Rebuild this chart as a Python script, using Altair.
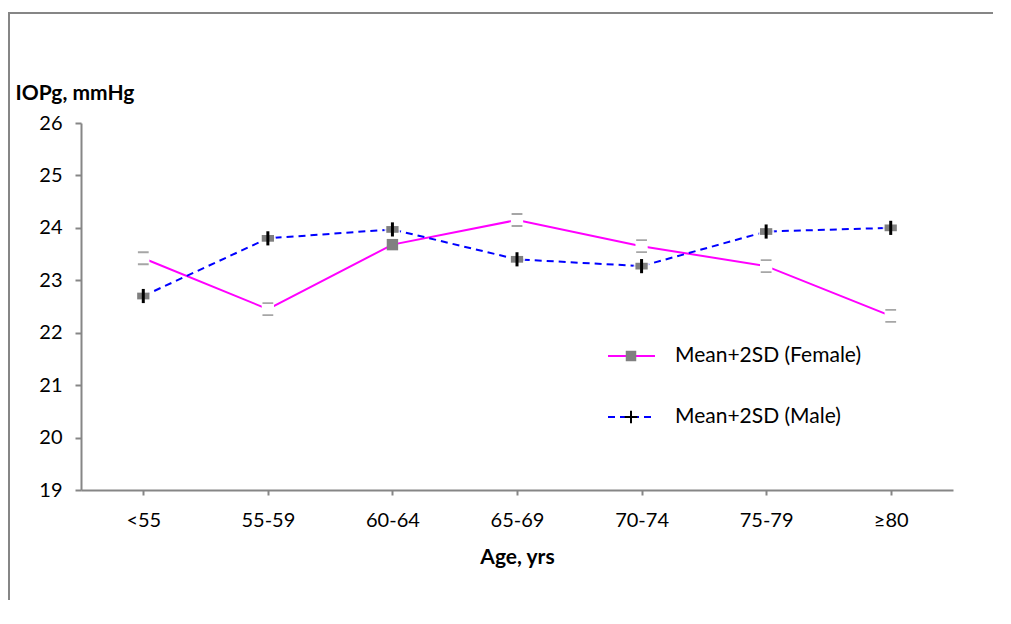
import altair as alt
import pandas as pd

categories = ["<55", "55-59", "60-64", "65-69", "70-74", "75-79", "≥80"]
female = [23.42, 22.45, 23.68, 24.15, 23.65, 23.27, 22.32]
male = [22.70, 23.80, 23.97, 23.40, 23.27, 23.93, 24.00]
female_marker_shown = [False, False, True, False, False, False, False]
y_ticks = [19, 19.5, 20, 20.5, 21, 21.5, 22, 22.5, 23, 23.5, 24, 24.5, 25, 25.5, 26]
legend_labels = ["Mean+2SD (Female)", "Mean+2SD (Male)"]

FONT = "Lato"
FS = 20
GRAY = "#868686"

W, H = 872, 367
PAD = {"left": 73, "top": 115, "right": 40, "bottom": 110}

fdf = pd.DataFrame({"cat": categories, "v": female, "shown": female_marker_shown})
mdf = pd.DataFrame({"cat": categories, "v": male})

xscale = alt.Scale(type="point", padding=0.5, domain=categories)
yscale = alt.Scale(domain=[19, 26], nice=False, zero=False)

xenc = alt.X("cat:O", sort=categories, scale=xscale,
             axis=alt.Axis(title="Age, yrs", labelAngle=0, tickSize=5,
                           labelBaseline="middle", labelPadding=25,
                           titleY=67, titleBaseline="middle"))
yenc = alt.Y("v:Q", scale=yscale,
             axis=alt.Axis(title="IOPg, mmHg", values=y_ticks,
                           labelExpr="datum.value % 1 == 0 ? format(datum.value, 'd') : ''",
                           tickSize=6, labelPadding=13,
                           titleAngle=0, titleX=-66, titleY=-30,
                           titleAlign="left", titleBaseline="middle"))
xs = alt.X("cat:O", sort=categories, scale=xscale)
ys = alt.Y("v:Q", scale=yscale)

f_line = alt.Chart(fdf).mark_line(color="#FF00FF", strokeWidth=2).encode(x=xenc, y=yenc)
m_line = alt.Chart(mdf).mark_line(color="#0000FF", strokeWidth=2, strokeDash=[7, 5]).encode(x=xs, y=ys)

f_box = alt.Chart(fdf).transform_filter("!datum.shown").mark_point(
    shape="square", filled=True, color="white", opacity=1, size=150).encode(x=xs, y=ys)
f_caps = alt.Chart(fdf).transform_filter("!datum.shown").mark_point(
    shape="M-0.9,-1H0.9M-0.9,1H0.9", filled=False, stroke="#a6a6a6", strokeWidth=1.8,
    opacity=1, size=144).encode(x=xs, y=ys)
f_sq = alt.Chart(fdf).transform_filter("datum.shown").mark_point(
    shape="square", filled=True, color="#808080", opacity=1, size=130).encode(x=xs, y=ys)

m_halo = alt.Chart(mdf).mark_point(shape="circle", filled=True, color="white",
                                    opacity=0.85, size=260).encode(x=xs, y=ys)
m_bar = alt.Chart(mdf).mark_point(shape="M-1,-0.55H1V0.55H-1Z", filled=True, color="#7f7f7f",
                                   opacity=1, size=150).encode(x=xs, y=ys)
m_cross = alt.Chart(mdf).mark_point(shape="M0,-1V1", filled=False, stroke="black",
                                     strokeWidth=3, opacity=1, size=200).encode(x=xs, y=ys)

# chart-area frame: outlined box whose right and bottom edges lie just outside the drawing
one = pd.DataFrame({"a": [0]})
frame = alt.Chart(one).mark_rect(fill="transparent", stroke=GRAY, strokeWidth=2, opacity=1).encode(
    x=alt.value(-72), x2=alt.value(W + PAD["right"] + 6),
    y=alt.value(-110), y2=alt.value(H + PAD["bottom"] + 6))

# legend
lf = pd.DataFrame({"label": [legend_labels[0]]})
lm = pd.DataFrame({"label": [legend_labels[1]]})
leg_f_line = alt.Chart(lf).mark_rule(color="#FF00FF", strokeWidth=2).encode(
    x=alt.value(527), x2=alt.value(574), y=alt.value(233))
leg_f_sq = alt.Chart(lf).mark_point(shape="square", filled=True, color="#808080", opacity=1,
                                    size=110).encode(x=alt.value(550), y=alt.value(233))
leg_f_txt = alt.Chart(lf).mark_text(align="left", baseline="middle", font=FONT, fontSize=21,
                                    color="black").encode(x=alt.value(594), y=alt.value(233), text="label:N")
leg_m_line = alt.Chart(lm).mark_rule(color="#0000FF", strokeWidth=2, strokeDash=[7, 5]).encode(
    x=alt.value(527), x2=alt.value(574), y=alt.value(294))
leg_m_cross = alt.Chart(lm).mark_point(shape="M0,-1V1M-1,0H1", filled=False, stroke="black",
                                       strokeWidth=2, opacity=1, size=160).encode(x=alt.value(550), y=alt.value(294))
leg_m_txt = alt.Chart(lm).mark_text(align="left", baseline="middle", font=FONT, fontSize=21,
                                    color="black").encode(x=alt.value(594), y=alt.value(294), text="label:N")

chart = alt.layer(
    frame,
    f_line, m_line,
    f_box, f_caps, f_sq,
    m_halo, m_bar, m_cross,
    leg_f_line, leg_f_sq, leg_f_txt, leg_m_line, leg_m_cross, leg_m_txt,
).properties(
    width=W, height=H,
    autosize=alt.AutoSizeParams(type="none"),
    padding=PAD,
    background="white",
).configure_view(stroke=None).configure_axis(
    grid=False, domainColor=GRAY, domainWidth=2, tickColor=GRAY, tickWidth=2,
    labelFont=FONT, labelFontSize=FS, labelColor="black",
    titleFont=FONT, titleFontSize=21, titleFontWeight="bold", titleColor="black",
)

chart.save("out.html", embed_options={"renderer": "svg", "actions": False})
